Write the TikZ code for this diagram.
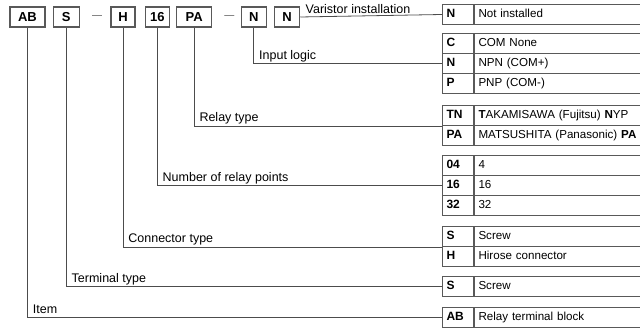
\documentclass[tikz,border=0pt]{standalone}
\usepackage{fontspec}
\setmainfont{Liberation Sans}
\usepackage{tikz}
\usetikzlibrary{positioning}
\tikzset{basic/.style={draw=black!65,line width=1pt,inner sep=0pt,minimum height=20pt}}
\tikzset{part/.style={basic,line width=1.3pt,font=\bfseries\fontsize{13}{15}\selectfont}}
\tikzset{code/.style={basic,anchor=north west,inner xsep=4pt,text width=23pt,minimum width=31pt,text height=9pt,text depth=3pt,align=left,font=\bfseries\fontsize{12}{14}\selectfont}}
\tikzset{desc/.style={basic,anchor=north west,inner xsep=4pt,text width=212pt,minimum width=220pt,text height=9pt,text depth=3pt,align=left,font=\fontsize{11.6}{14}\selectfont}}
\tikzset{lbl/.style={anchor=base west,xshift=5pt,yshift=4pt,inner sep=0pt,font=\fontsize{12.5}{14}\selectfont}}
\tikzset{lead/.style={draw=black!70,line width=0.8pt}}
\newcommand{\optrow}[4]{\node[code] (#1) at (442,#2) {#3};
  \node[desc] (#1d) at (#1.north east) {#4};}

\begin{document}
\begin{tikzpicture}[x=1pt,y=-1pt]
		\useasboundingbox (0,0) rectangle (640,328);
		\clip (0,0) rectangle (640,328);
		% model code
		\node[part,minimum width=35pt] (ab) at (27.5,17) {AB};
		\node[part,minimum width=26pt,right=7pt of ab] (s) {S};
		\node[right=12pt of s,inner sep=0pt,text=black!70] (dash1) {\textemdash};
		\node[part,minimum width=24pt,right=8pt of dash1] (h) {H};
		\node[part,minimum width=24pt,right=9pt of h] (pts) {16};
		\node[part,minimum width=35pt,right=6pt of pts] (pa) {PA};
		\node[right=12pt of pa,inner sep=0pt,text=black!70] (dash2) {\textemdash};
		\node[part,minimum width=25pt,right=6pt of dash2] (n1) {N};
		\node[part,minimum width=25pt,right=7pt of n1] (n2) {N};
		% option tables
		\optrow{var}{4}{N}{Not installed}
		\optrow{logc}{33}{C}{COM None}
		\optrow{logn}{53}{N}{NPN (COM+)}
		\optrow{logp}{73}{P}{PNP (COM-)}
		\optrow{tn}{105}{TN}{\textbf{T}AKAMISAWA (Fujitsu) \textbf{N}YP}
		\optrow{pan}{125}{PA}{MATSUSHITA (Panasonic) \textbf{PA}}
		\optrow{p04}{155}{04}{4}
		\optrow{p16}{175}{16}{16}
		\optrow{p32}{195}{32}{32}
		\optrow{cs}{226}{S}{Screw}
		\optrow{ch}{246}{H}{Hirose connector}
		\optrow{ts}{276}{S}{Screw}
		\optrow{item}{307}{AB}{Relay terminal block}
		% leaders
		\draw[lead] (n2.east) -- node[lbl,pos=0,yshift=-1pt] {Varistor installation} (var.west);
		\draw[lead] (n1.south) |- node[lbl,pos=0.5] {Input logic} (logn.west);
		\draw[lead] (pa.south) |- node[lbl,pos=0.5] {Relay type} (tn.south west);
		\draw[lead] (pts.south) |- node[lbl,pos=0.5] {Number of relay points} (p16.west);
		\draw[lead] (h.south) |- node[lbl,pos=0.5] {Connector type} (cs.south west);
		\draw[lead] (s.south) |- node[lbl,pos=0.5] {Terminal type} (ts.west);
		\draw[lead] (ab.south) |- node[lbl,pos=0.5] {Item} (item.west);
	\end{tikzpicture}
\end{document}
